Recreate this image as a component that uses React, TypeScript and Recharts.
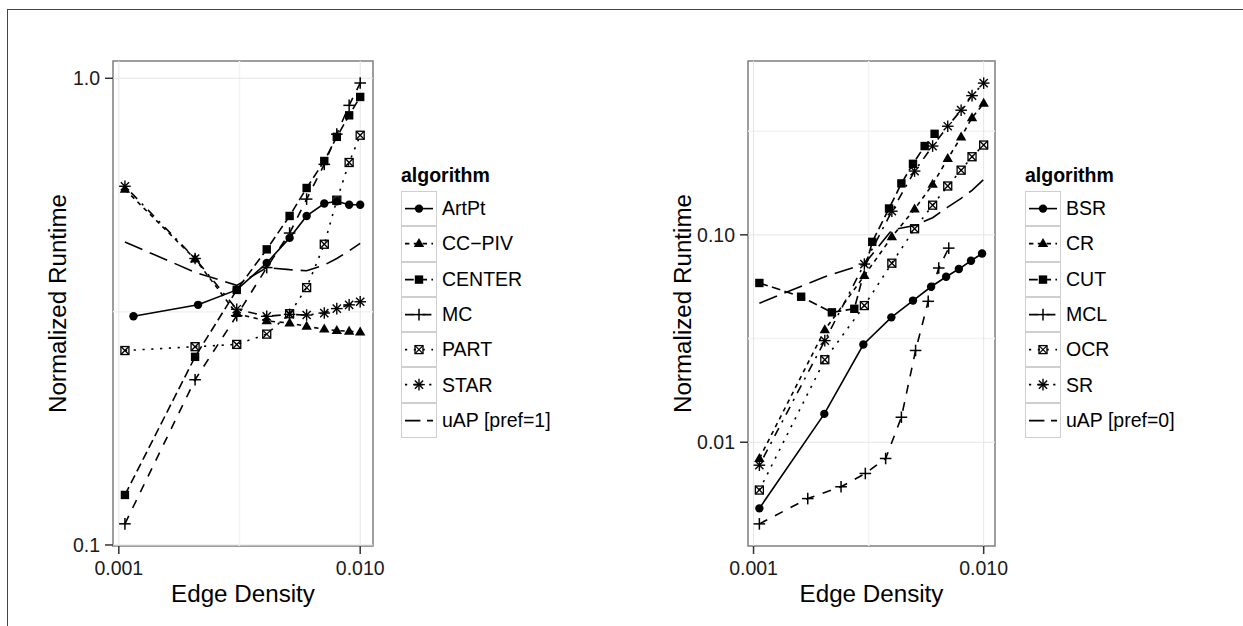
import React from 'react';
import { LineChart, Line, XAxis, YAxis, ReferenceLine, ReferenceArea, Legend } from 'recharts';

const FONT = '"Liberation Sans", Arial, Helvetica, sans-serif';

// ---------------- Left panel data ----------------
const leftAlgorithms = ['ArtPt', 'CC\u2212PIV', 'CENTER', 'MC', 'PART', 'STAR', 'uAP [pref=1]'];
const leftDensity = [0.00106, 0.00207, 0.00308, 0.0041, 0.0051, 0.006, 0.0071, 0.008, 0.009, 0.01];
const artPtDensity = [0.00115, 0.00213, 0.00308, 0.0041, 0.0051, 0.006, 0.0071, 0.008, 0.009, 0.01];
const artPtRuntime = [0.309, 0.327, 0.352, 0.402, 0.455, 0.507, 0.539, 0.545, 0.536, 0.536];
const ccPivRuntime = [0.578, 0.41, 0.313, 0.302, 0.299, 0.294, 0.29, 0.288, 0.287, 0.286];
const centerRuntime = [0.128, 0.253, 0.352, 0.43, 0.507, 0.582, 0.665, 0.749, 0.833, 0.912];
const mcRuntime = [0.111, 0.226, 0.31, 0.393, 0.466, 0.551, 0.654, 0.759, 0.875, 0.977];
const partRuntime = [0.261, 0.266, 0.269, 0.283, 0.313, 0.356, 0.441, 0.548, 0.66, 0.755];
const starRuntime = [0.587, 0.411, 0.32, 0.309, 0.312, 0.311, 0.314, 0.321, 0.327, 0.332];
const uap1Runtime = [0.446, 0.384, 0.36, 0.393, 0.389, 0.387, 0.398, 0.411, 0.427, 0.443];

// ---------------- Right panel data ----------------
const rightAlgorithms = ['BSR', 'CR', 'CUT', 'MCL', 'OCR', 'SR', 'uAP [pref=0]'];
const rightDensity = [0.00106, 0.00204, 0.00303, 0.00399, 0.00501, 0.006, 0.00698, 0.00798, 0.0089, 0.01];
const bsrDensity = [0.00106, 0.00203, 0.003, 0.00397, 0.00493, 0.00591, 0.00687, 0.0078, 0.00881, 0.00984];
const bsrRuntime = [0.0048, 0.0137, 0.0296, 0.04, 0.0482, 0.0562, 0.0628, 0.0684, 0.075, 0.0813];
const crRuntime = [0.00835, 0.0348, 0.0636, 0.0978, 0.133, 0.175, 0.233, 0.296, 0.367, 0.43];
const cutDensity = [0.00106, 0.00161, 0.00219, 0.00274, 0.00328, 0.00388, 0.00439, 0.00493, 0.00554, 0.00612];
const cutRuntime = [0.0586, 0.0503, 0.0423, 0.044, 0.0925, 0.134, 0.177, 0.22, 0.268, 0.307];
const mclDensity = [0.00106, 0.00172, 0.0024, 0.00306, 0.00375, 0.00439, 0.00506, 0.00574, 0.00638, 0.00705];
const mclRuntime = [0.00404, 0.00535, 0.0061, 0.00707, 0.00835, 0.0132, 0.0277, 0.0478, 0.0692, 0.0863];
const ocrRuntime = [0.00588, 0.025, 0.0456, 0.073, 0.107, 0.139, 0.172, 0.205, 0.238, 0.271];
const srRuntime = [0.00775, 0.0309, 0.0723, 0.13, 0.203, 0.268, 0.334, 0.399, 0.469, 0.539];
const uap0Runtime = [0.0468, 0.0628, 0.0723, 0.1055, 0.111, 0.121, 0.136, 0.15, 0.164, 0.185];

// ---------------- Axes ----------------
const xTicks = [0.001, 0.01];
const xTickLabels = ['0.001', '0.010'];
const xMinorGrid = [0.003162];
const leftYTicks = [0.1, 1.0];
const leftYTickLabels = ['0.1', '1.0'];
const leftYMinorGrid = [0.3162];
const rightYTicks = [0.01, 0.1];
const rightYTickLabels = ['0.01', '0.10'];
const rightYMinorGrid = [0.03162, 0.3162];
const leftXDomain = [0.000946, 0.0113];
const leftYDomain = [0.0995, 1.089];
const rightXDomain = [0.000946, 0.0112];
const rightYDomain = [0.00316, 0.689];

// ggplot default shape / linetype order
const markerShapes = ['circle', 'triangle', 'square', 'plus', 'boxcross', 'asterisk', 'none'];
const keyPatterns = ['', '4.4 4.4', '8.8 4.4', '8.8 8.8', '2.2 6.6', '2.2 6.6 8.8 6.6', '15.4 6.6'];
const linePatterns = ['', '4.4 4.4', '8.8 4.4', '8.8 8.8', '2.2 6.6', '2.2 6.6 8.8 6.6', '19 8'];

const INK = '#000000';

function Marker({ shape, cx, cy }: { shape: string; cx: number; cy: number }) {
  switch (shape) {
    case 'circle':
      return <circle cx={cx} cy={cy} r={4.2} fill={INK} />;
    case 'triangle':
      return <polygon points={`${cx},${cy - 5.6} ${cx - 5.2},${cy + 3.4} ${cx + 5.2},${cy + 3.4}`} fill={INK} />;
    case 'square':
      return <rect x={cx - 4.2} y={cy - 4.2} width={8.4} height={8.4} fill={INK} />;
    case 'plus':
      return (
        <g stroke={INK} strokeWidth={1.5}>
          <line x1={cx - 5.8} y1={cy} x2={cx + 5.8} y2={cy} />
          <line x1={cx} y1={cy - 5.8} x2={cx} y2={cy + 5.8} />
        </g>
      );
    case 'boxcross':
      return (
        <g stroke={INK} strokeWidth={1.3} fill="none">
          <rect x={cx - 4} y={cy - 4} width={8} height={8} />
          <line x1={cx - 4} y1={cy - 4} x2={cx + 4} y2={cy + 4} />
          <line x1={cx - 4} y1={cy + 4} x2={cx + 4} y2={cy - 4} />
        </g>
      );
    case 'asterisk':
      return (
        <g stroke={INK} strokeWidth={1.4}>
          <line x1={cx - 5.8} y1={cy} x2={cx + 5.8} y2={cy} />
          <line x1={cx} y1={cy - 5.8} x2={cx} y2={cy + 5.8} />
          <line x1={cx - 4.1} y1={cy - 4.1} x2={cx + 4.1} y2={cy + 4.1} />
          <line x1={cx - 4.1} y1={cy + 4.1} x2={cx + 4.1} y2={cy - 4.1} />
        </g>
      );
    default:
      return null;
  }
}

type Series = { name: string; data: { x: number; y: number }[]; shape: string; dash: string; keyDash: string };

function buildSeries(names: string[], xs: number[][], ys: number[][]): Series[] {
  return names.map((name, i) => ({
    name,
    data: xs[i].map((x, j) => ({ x, y: ys[i][j] })),
    shape: markerShapes[i],
    dash: linePatterns[i],
    keyDash: keyPatterns[i],
  }));
}

const leftSeries = buildSeries(
  leftAlgorithms,
  [artPtDensity, leftDensity, leftDensity, leftDensity, leftDensity, leftDensity, leftDensity],
  [artPtRuntime, ccPivRuntime, centerRuntime, mcRuntime, partRuntime, starRuntime, uap1Runtime]
);
const rightSeries = buildSeries(
  rightAlgorithms,
  [bsrDensity, rightDensity, cutDensity, mclDensity, rightDensity, rightDensity, rightDensity],
  [bsrRuntime, crRuntime, cutRuntime, mclRuntime, ocrRuntime, srRuntime, uap0Runtime]
);

function LegendBlock({ title, series }: { title: string; series: Series[] }) {
  return (
    <div style={{ fontFamily: FONT, color: '#000' }}>
      <div style={{ fontWeight: 'bold', fontSize: 19.5, lineHeight: '26px', height: 29 }}>{title}</div>
      {series.map((s) => (
        <div key={s.name} style={{ display: 'flex', alignItems: 'center', height: 35.3 }}>
          <div style={{ width: 36, height: 35.3, border: '1px solid #cfcfcf', boxSizing: 'border-box', background: '#fff' }}>
            <svg width={34} height={33.3} style={{ display: 'block' }}>
              <line
                x1={3}
                y1={16.6}
                x2={31}
                y2={16.6}
                stroke={INK}
                strokeWidth={1.6}
                strokeDasharray={s.keyDash || undefined}
              />
              <Marker shape={s.shape} cx={17} cy={16.6} />
            </svg>
          </div>
          <div style={{ fontSize: 19.5, marginLeft: 5, whiteSpace: 'nowrap' }}>{s.name}</div>
        </div>
      ))}
    </div>
  );
}

function XTitle(props: any) {
  return (
    <text x={props.tx} y={props.ty} textAnchor="middle" fontSize={24.2} fontFamily={FONT} fill="#000">
      Edge Density
    </text>
  );
}

function YTitle(props: any) {
  return (
    <text
      x={props.tx}
      y={props.ty}
      textAnchor="middle"
      dominantBaseline="central"
      fontSize={24.2}
      fontFamily={FONT}
      fill="#000"
      transform={`rotate(-90 ${props.tx} ${props.ty})`}
    >
      Normalized Runtime
    </text>
  );
}

type PanelProps = {
  width: number;
  plotLeft: number;
  plotRight: number;
  xDomain: number[];
  yDomain: number[];
  yTicks: number[];
  yTickLabels: string[];
  yMinor: number[];
  series: Series[];
  legendLeft: number;
  yTitleX: number;
};

function Panel(p: PanelProps) {
  const plotTop = 61;
  const plotBottom = 546;
  const H = 626;
  const tickStyle = { fontSize: 19.5, fill: '#1a1a1a', fontFamily: FONT };
  return (
    <LineChart
      width={p.width}
      height={H}
      margin={{ top: plotTop, right: p.width - p.plotRight, bottom: 0, left: 0 }}
    >
      <XAxis
        type="number"
        dataKey="x"
        scale="log"
        domain={p.xDomain}
        allowDataOverflow
        ticks={xTicks}
        interval={0}
        tickFormatter={(v: number) => xTickLabels[xTicks.indexOf(v)] ?? String(v)}
        height={H - plotBottom}
        axisLine={false}
        tickSize={8}
        tickMargin={7}
        tickLine={{ stroke: '#333', strokeWidth: 1.5 }}
        tick={tickStyle}
        label={<XTitle tx={(p.plotLeft + p.plotRight) / 2} ty={602} />}
      />
      <YAxis
        type="number"
        dataKey="y"
        scale="log"
        domain={p.yDomain}
        allowDataOverflow
        ticks={p.yTicks}
        interval={0}
        tickFormatter={(v: number) => p.yTickLabels[p.yTicks.indexOf(v)] ?? String(v)}
        width={p.plotLeft}
        axisLine={false}
        tickSize={8}
        tickMargin={5}
        tickLine={{ stroke: '#333', strokeWidth: 1.5 }}
        tick={tickStyle}
        label={<YTitle tx={p.yTitleX} ty={(plotTop + plotBottom) / 2} />}
      />
      {p.yMinor.map((v) => (
        <ReferenceLine key={`ym${v}`} y={v} stroke="#f3f3f3" strokeWidth={1.5} />
      ))}
      {xMinorGrid.map((v) => (
        <ReferenceLine key={`xm${v}`} x={v} stroke="#f3f3f3" strokeWidth={1.5} />
      ))}
      {p.yTicks.map((v) => (
        <ReferenceLine key={`yM${v}`} y={v} stroke="#e5e5e5" strokeWidth={1} />
      ))}
      {xTicks.map((v) => (
        <ReferenceLine key={`xM${v}`} x={v} stroke="#e5e5e5" strokeWidth={1} />
      ))}
      {p.series.map((s) => (
        <Line
          key={s.name}
          data={s.data}
          dataKey="y"
          name={s.name}
          type="linear"
          stroke={INK}
          strokeWidth={1.6}
          strokeDasharray={s.dash || undefined}
          isAnimationActive={false}
          activeDot={false}
          dot={
            s.shape === 'none'
              ? false
              : (dp: any) => <Marker key={`${s.name}-${dp.index}`} shape={s.shape} cx={dp.cx} cy={dp.cy} />
          }
        />
      ))}
      <ReferenceArea
        x1={p.xDomain[0]}
        x2={p.xDomain[1]}
        y1={p.yDomain[0]}
        y2={p.yDomain[1]}
        fill="none"
        fillOpacity={0}
        stroke="#7f7f7f"
        strokeWidth={1.5}
        ifOverflow="visible"
      />
      <Legend
        layout="vertical"
        align="center"
        verticalAlign="middle"
        wrapperStyle={{ left: p.legendLeft, top: 162, width: 'auto' }}
        content={() => <LegendBlock title="algorithm" series={p.series} />}
      />
    </LineChart>
  );
}

export default function App() {
  return (
    <div
      style={{
        position: 'absolute',
        left: 0,
        top: 0,
        width: 1243,
        height: 626,
        overflow: 'hidden',
        background: '#fff',
      }}
    >
      <div
        style={{
          position: 'absolute',
          left: 7,
          top: 9,
          width: 1400,
          height: 800,
          borderTop: '1.5px solid #444',
          borderLeft: '1.5px solid #444',
        }}
      />
      <div style={{ position: 'absolute', left: 0, top: 0 }}>
        <Panel
          width={640}
          plotLeft={113}
          plotRight={373}
          xDomain={leftXDomain}
          yDomain={leftYDomain}
          yTicks={leftYTicks}
          yTickLabels={leftYTickLabels}
          yMinor={leftYMinorGrid}
          series={leftSeries}
          legendLeft={401}
          yTitleX={57}
        />
      </div>
      <div style={{ position: 'absolute', left: 640, top: 0 }}>
        <Panel
          width={603}
          plotLeft={108}
          plotRight={355}
          xDomain={rightXDomain}
          yDomain={rightYDomain}
          yTicks={rightYTicks}
          yTickLabels={rightYTickLabels}
          yMinor={rightYMinorGrid}
          series={rightSeries}
          legendLeft={385}
          yTitleX={42}
        />
      </div>
    </div>
  );
}
